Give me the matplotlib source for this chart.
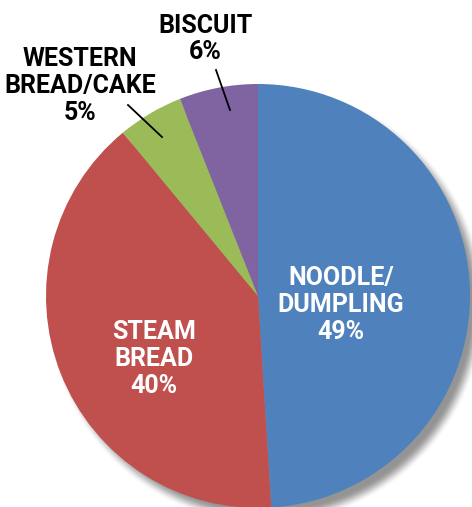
import numpy as np
import matplotlib
matplotlib.use('Agg')
import matplotlib.pyplot as plt

# Wheat use by product type
produtos = ['NOODLE/\nDUMPLING', 'STEAM\nBREAD', 'WESTERN\nBREAD/CAKE', 'BISCUIT']
percentuais = [49, 40, 5, 6]
cores = ['#4F81BD', '#C0504D', '#9BBB59', '#8064A2']

W, H = 472, 507
plt.rcParams['font.family'] = ['Roboto', 'DejaVu Sans']

fig = plt.figure(figsize=(W / 100, H / 100), dpi=100)
ax = fig.add_axes([0, 0, 1, 1])

cx, cy, raio = 258, H - 296, 212

# sombra difusa no canto inferior direito
xs = np.arange(W) + 0.5
ys = np.arange(H) + 0.5
gx, gy = np.meshgrid(xs, ys)
dist = np.hypot(gx - (cx + 8), gy - (cy - 9))
borda = 14.0
t = np.clip((raio + borda / 2 - dist) / borda, 0, 1)
alfa = t * t * (3 - 2 * t) * 0.7
sombra = np.zeros((H, W, 4))
sombra[..., :3] = 0.4
sombra[..., 3] = alfa
ax.imshow(sombra, extent=(0, W, 0, H), origin='lower', zorder=0, interpolation='bilinear')

wedges, _ = ax.pie(percentuais, colors=cores, startangle=90, counterclock=False,
                   center=(cx, cy), radius=raio, frame=True,
                   wedgeprops=dict(linewidth=0))
for w in wedges:
    w.set_zorder(2)
ax.set_xlim(0, W)
ax.set_ylim(0, H)
ax.set_aspect('auto')
ax.axis('off')

fs = 18
estilo = dict(fontsize=fs, fontweight='bold', ha='center', va='center',
              linespacing=1.15, zorder=5)

def rotulo(i):
    return f'{produtos[i]}\n{percentuais[i]}%'

# rótulos dentro das fatias grandes
ax.text(341, H - 305, rotulo(0), color='white', **estilo)
ax.text(154, H - 359, rotulo(1), color='white', **estilo)

# rótulos externos com linha guia
ax.text(80, H - 86, rotulo(2), color='black', **estilo)
ax.text(205, H - 39, rotulo(3), color='black', **estilo)
ax.plot([128, 162], [H - 105, H - 137], color='black', lw=1.3, zorder=6)
ax.plot([216, 230], [H - 70, H - 110], color='black', lw=1.3, zorder=6)

plt.savefig('out.png', dpi=100)
plt.close()
